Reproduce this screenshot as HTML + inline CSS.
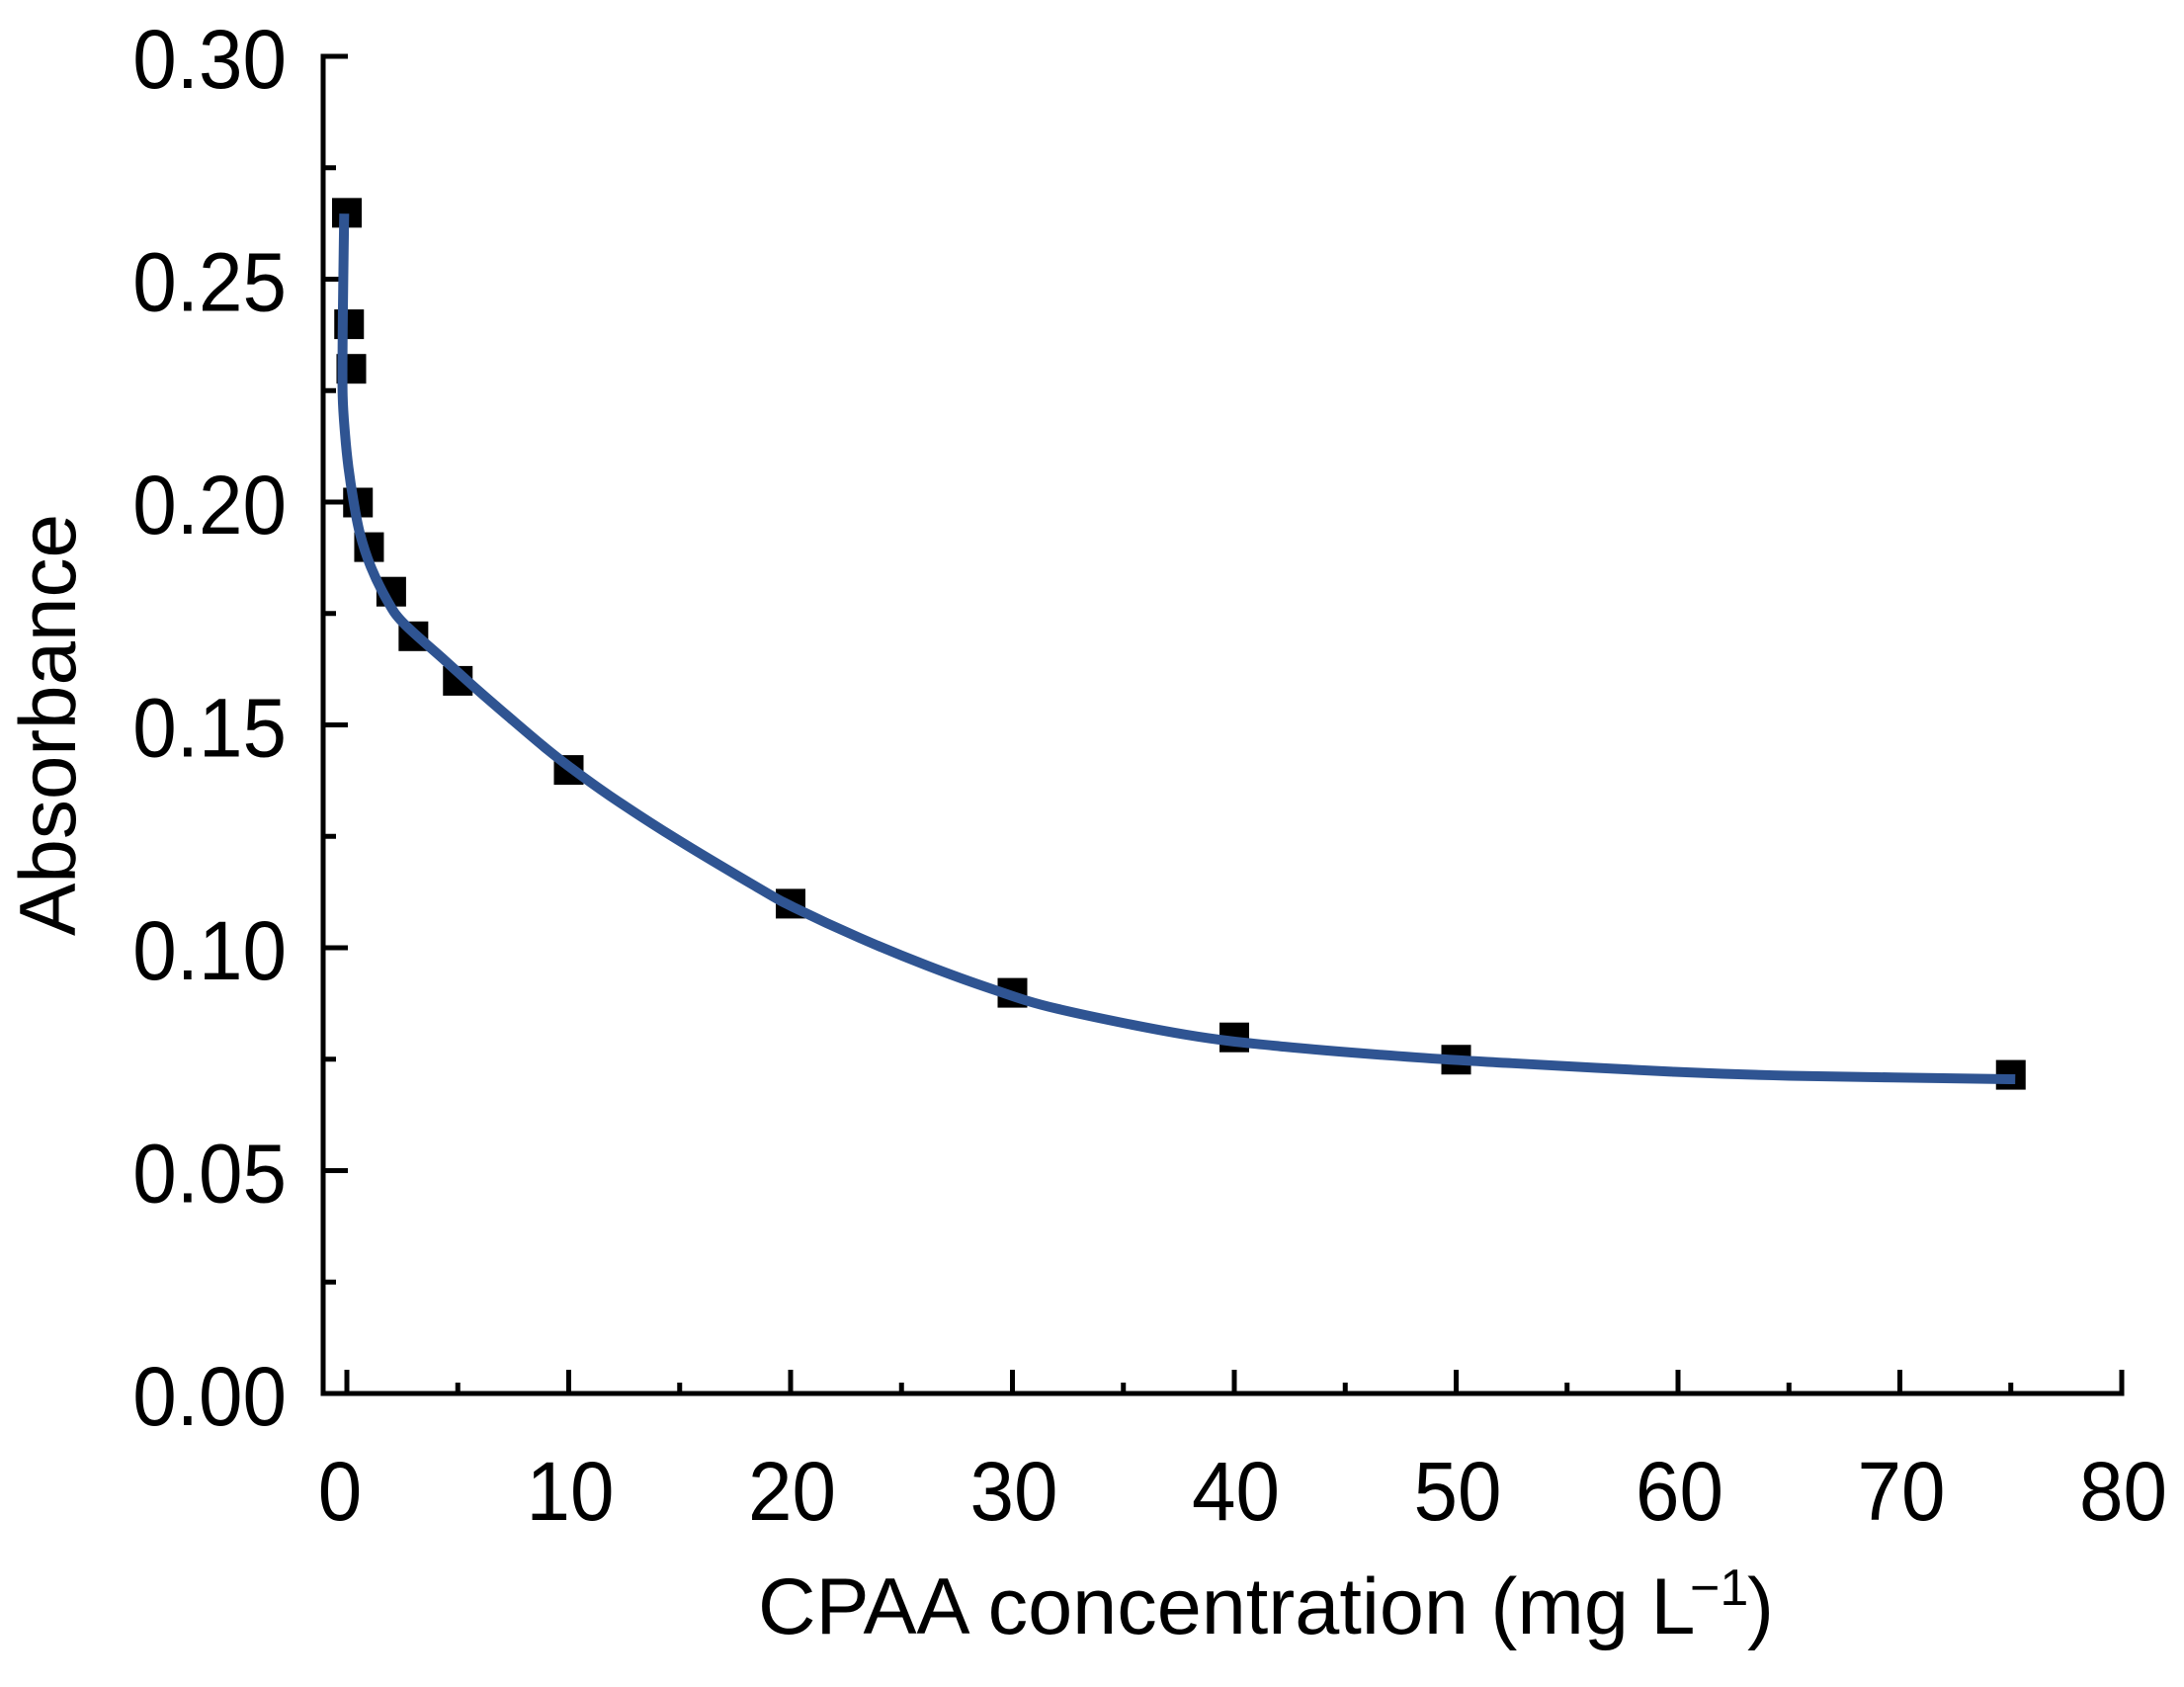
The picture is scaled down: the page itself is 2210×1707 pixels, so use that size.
<!DOCTYPE html>
<html>
<head>
<meta charset="utf-8">
<style>
html,body{margin:0;padding:0;background:#fff;}
svg{display:block;}
text{font-family:"Liberation Sans",Arial,sans-serif;fill:#000;}
</style>
</head>
<body>
<svg id="chart" xmlns="http://www.w3.org/2000/svg" width="2210" height="1707" viewBox="0 0 2210 1707">
  <rect x="0" y="0" width="2210" height="1707" fill="#ffffff"/>
  <g id="axes"></g>
  <g id="points"></g>
  <path id="fit" fill="none" stroke="#2f5492" stroke-width="10" stroke-linejoin="round"/>
  <text transform="translate(76,947) rotate(-90)" font-size="81" textLength="427" lengthAdjust="spacingAndGlyphs">Absorbance</text>
  <text x="767" y="1653" font-size="81">CPAA concentration (mg L<tspan font-size="52" x="1710" dy="-29">−1</tspan><tspan x="1768" dy="29">)</tspan></text>
</svg>
<script>
const concentration = [0, 0.1, 0.2, 0.5, 1, 2, 3, 5, 10, 20, 30, 40, 50, 75];
const absorbance = [0.265, 0.24, 0.23, 0.2, 0.19, 0.18, 0.17, 0.16, 0.14, 0.11, 0.09, 0.08, 0.075, 0.0716];
const fitX = [-0.12, -0.16, -0.19, -0.19, -0.08, 0.07, 0.30, 0.59, 1.07, 1.81, 2.54, 4.41, 5.88, 7.39, 8.86, 9.98, 11.85, 14.79, 18.66, 20.13, 23.12, 26.10, 29.04, 32.03, 37.82, 42.27, 48.2, 52.52, 59.69, 65, 75.2];
const fitY = [0.2647, 0.2506, 0.2373, 0.2239, 0.2151, 0.2078, 0.2002, 0.1929, 0.1856, 0.1780, 0.1729, 0.1645, 0.1579, 0.1514, 0.1452, 0.1408, 0.1341, 0.1246, 0.1131, 0.1091, 0.1022, 0.0961, 0.0908, 0.0863, 0.0805, 0.0778, 0.0754, 0.0741, 0.0722, 0.0713, 0.0705];
const xMajorTicks = [0, 10, 20, 30, 40, 50, 60, 70, 80];
const xMinorTicks = [5, 15, 25, 35, 45, 55, 65, 75];
const yMajorTicks = [0, 0.05, 0.10, 0.15, 0.20, 0.25, 0.30];
const yMinorTicks = [0.025, 0.075, 0.125, 0.175, 0.225, 0.275];
const xTickLabels = ["0", "10", "20", "30", "40", "50", "60", "70", "80"];
const yTickLabels = ["0.00", "0.05", "0.10", "0.15", "0.20", "0.25", "0.30"];

const NS = "http://www.w3.org/2000/svg";
function sx(v){ return 351 + v * 22.45; }
function sy(v){ return 1410 - v * 4510; }
function make(tag, attrs, parent){
  const el = document.createElementNS(NS, tag);
  for (const k in attrs) el.setAttribute(k, attrs[k]);
  parent.appendChild(el);
  return el;
}
const axes = document.getElementById("axes");
const STROKE = {stroke:"#000", "stroke-width":5, "stroke-linecap":"butt"};

const yAxisLine = make("line", Object.assign({x1:327,y1:sy(0.30)-2.5,x2:327,y2:sy(0)+2.5}, STROKE), axes);


const xAxisLine = make("line", Object.assign({x1:324.5,y1:sy(0),x2:sx(80)+2.5,y2:sy(0)}, STROKE), axes);



xMajorTicks.forEach(function(v, i){
  const t = make("line", Object.assign({x1:sx(v),y1:sy(0),x2:sx(v),y2:sy(0)-24}, STROKE), axes);
  
  
  const lx = sx(v) + (i === 0 ? -7 : 1.5);
  const lab = make("text", {transform:"translate(" + lx + ",1538) scale(1,1.05)", "font-size":80, "text-anchor":"middle"}, axes);
  lab.textContent = xTickLabels[i];
  
  
});
xMinorTicks.forEach(function(v){
  const t = make("line", Object.assign({x1:sx(v),y1:sy(0),x2:sx(v),y2:sy(0)-11}, STROKE), axes);
  
  
});
yMajorTicks.forEach(function(v, i){
  const t = make("line", Object.assign({x1:327,y1:sy(v),x2:352,y2:sy(v)}, STROKE), axes);
  
  
  const lab = make("text", {transform:"translate(290," + (sy(v)+32) + ") scale(1,1.05)", "font-size":80, "text-anchor":"end"}, axes);
  lab.textContent = yTickLabels[i];
  
  
});
yMinorTicks.forEach(function(v){
  const t = make("line", Object.assign({x1:327,y1:sy(v),x2:340,y2:sy(v)}, STROKE), axes);
  
  
});

const pts = document.getElementById("points");
concentration.forEach(function(c, i){
  const m = make("rect", {x:sx(c)-15, y:sy(absorbance[i])-14.5, width:30, height:30, fill:"#000"}, pts);
  
  
});

/* smooth curve through the read points (Catmull-Rom) */
(function(){
  const p = fitX.map(function(x, i){ return [sx(x), sy(fitY[i])]; });
  let d = "M" + p[0][0] + " " + p[0][1];
  for (let i = 0; i < p.length - 1; i++) {
    const a = p[Math.max(i-1,0)], b = p[i], c = p[i+1], e = p[Math.min(i+2,p.length-1)];
    const c1x = b[0] + (c[0]-a[0])/6, c1y = b[1] + (c[1]-a[1])/6;
    const c2x = c[0] - (e[0]-b[0])/6, c2y = c[1] - (e[1]-b[1])/6;
    d += " C" + c1x.toFixed(2) + " " + c1y.toFixed(2) + " " + c2x.toFixed(2) + " " + c2y.toFixed(2) + " " + c[0].toFixed(2) + " " + c[1].toFixed(2);
  }
  document.getElementById("fit").setAttribute("d", d);
})();
</script>
</body>
</html>
